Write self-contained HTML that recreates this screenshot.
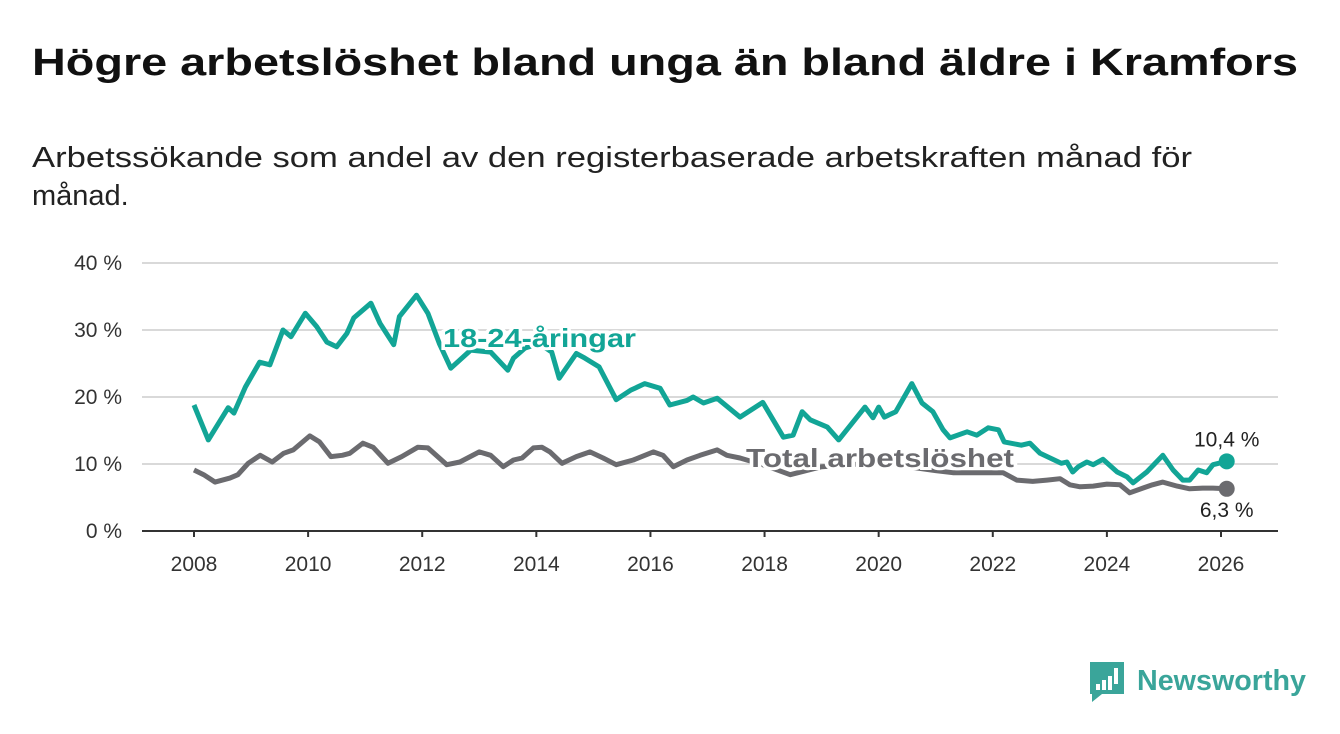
<!DOCTYPE html>
<html><head><meta charset="utf-8"><style>
body{margin:0;background:#fff;}
svg{display:block;font-family:"Liberation Sans",sans-serif;}
</style></head><body>
<svg id="chart" width="1340" height="734" viewBox="0 0 1340 734">
<text x="32" y="75" font-size="38" font-weight="bold" fill="#111" textLength="1266" lengthAdjust="spacingAndGlyphs">Högre arbetslöshet bland unga än bland äldre i Kramfors</text>
<text x="32" y="167" font-size="29" fill="#222" textLength="1160" lengthAdjust="spacingAndGlyphs">Arbetssökande som andel av den registerbaserade arbetskraften månad för</text>
<text x="32" y="205" font-size="29" fill="#222">månad.</text>
<g id="grid"></g><g id="axes"></g><g id="series"></g><g id="labels"></g>
<g>
<path d="M1090 662 h34 v32 h-22 l-10 8 v-8 h-2 z" fill="#3aa59a"/>
<rect x="1096" y="684" width="4" height="6" fill="#fff"/><rect x="1102" y="680" width="4" height="10" fill="#fff"/><rect x="1108" y="676" width="4" height="14" fill="#fff"/><rect x="1114" y="668" width="4" height="16" fill="#fff"/>
<text x="1137" y="690" font-size="29" font-weight="bold" fill="#3aa59a" textLength="169" lengthAdjust="spacingAndGlyphs">Newsworthy</text>
</g>
</svg>
<script>
const yTicks=[0,10,20,30,40];
const xTicks=[2008,2010,2012,2014,2016,2018,2020,2022,2024,2026];
const youthDates=[2008.0,2008.25,2008.6,2008.7,2008.9,2009.15,2009.33,2009.56,2009.7,2009.95,2010.15,2010.33,2010.5,2010.68,2010.8,2011.1,2011.26,2011.5,2011.6,2011.9,2012.1,2012.3,2012.5,2012.85,2013.2,2013.5,2013.6,2013.8,2014.05,2014.27,2014.4,2014.7,2014.85,2015.1,2015.4,2015.65,2015.9,2016.17,2016.34,2016.64,2016.75,2016.93,2017.17,2017.57,2017.97,2018.33,2018.5,2018.66,2018.8,2019.1,2019.3,2019.76,2019.9,2020.0,2020.1,2020.3,2020.58,2020.76,2020.95,2021.13,2021.25,2021.55,2021.72,2021.92,2022.1,2022.2,2022.5,2022.65,2022.83,2023.2,2023.3,2023.4,2023.5,2023.65,2023.76,2023.93,2024.18,2024.35,2024.46,2024.7,2024.98,2025.16,2025.33,2025.45,2025.6,2025.75,2025.86,2026.1];
const youthValues=[18.8,13.6,18.4,17.6,21.5,25.2,24.8,30,29,32.5,30.5,28.2,27.5,29.5,31.8,34,31,27.8,32,35.2,32.5,28,24.3,27,26.7,24,25.8,27.3,28,26.7,22.8,26.5,25.8,24.5,19.6,21,22,21.3,18.8,19.5,20,19.1,19.8,17,19.2,14,14.3,17.8,16.6,15.5,13.6,18.5,16.9,18.5,17,17.8,22,19.1,17.8,15.1,13.9,14.8,14.3,15.4,15.1,13.3,12.8,13.1,11.6,10.1,10.3,8.8,9.6,10.3,9.9,10.7,8.8,8.1,7.2,8.8,11.3,9.1,7.6,7.6,9.1,8.7,9.9,10.4];
const totalDates=[2008.0,2008.17,2008.37,2008.63,2008.77,2008.95,2009.16,2009.37,2009.57,2009.74,2010.03,2010.2,2010.4,2010.6,2010.73,2010.96,2011.14,2011.4,2011.64,2011.92,2012.1,2012.43,2012.66,2013.0,2013.2,2013.42,2013.6,2013.75,2013.95,2014.1,2014.24,2014.45,2014.7,2014.94,2015.17,2015.4,2015.7,2016.05,2016.22,2016.4,2016.64,2016.87,2017.17,2017.34,2017.57,2018.0,2018.45,2019.0,2019.5,2020.0,2020.5,2021.0,2021.3,2021.9,2022.18,2022.42,2022.7,2022.95,2023.18,2023.35,2023.53,2023.76,2024.0,2024.23,2024.4,2024.63,2024.8,2024.98,2025.23,2025.45,2025.68,2025.86,2026.1];
const totalValues=[9.1,8.4,7.3,7.9,8.4,10.1,11.3,10.3,11.6,12.1,14.2,13.3,11.1,11.3,11.6,13.1,12.5,10.1,11.1,12.5,12.4,9.9,10.3,11.8,11.3,9.6,10.6,10.9,12.4,12.5,11.8,10.1,11.1,11.8,10.9,9.9,10.6,11.8,11.3,9.6,10.6,11.3,12.1,11.3,10.9,9.8,8.4,9.6,9.9,10.2,9.6,9.0,8.7,8.7,8.7,7.6,7.4,7.6,7.8,6.9,6.6,6.7,7.0,6.9,5.7,6.4,6.9,7.3,6.7,6.3,6.4,6.4,6.3];
const youthLast="10,4 %", totalLast="6,3 %";
const NS="http://www.w3.org/2000/svg";
const X0=142,X1=1278,Y0=531,Y1=263;
const xs=y=>194+(y-2008)*(1221-194)/18;
const ys=v=>Y0-(v/40)*(Y0-Y1);
function mk(tag,attrs,parent,text){const e=document.createElementNS(NS,tag);for(const k in attrs)e.setAttribute(k,attrs[k]);if(text!=null)e.textContent=text;parent.appendChild(e);return e;}
const grid=document.getElementById('grid'),axes=document.getElementById('axes'),series=document.getElementById('series'),labels=document.getElementById('labels');
yTicks.forEach(t=>{
 if(t>0){const g=mk('line',{x1:X0,x2:X1,y1:ys(t),y2:ys(t),stroke:'#d9d9d9','stroke-width':2},grid);
 
 }
 const l=mk('text',{x:122,y:ys(t)+7,'text-anchor':'end','font-size':21,fill:'#333'},axes,t+' %');
 
 
});
const ax=mk('line',{x1:X0,x2:X1,y1:Y0,y2:Y0,stroke:'#333','stroke-width':2},axes);


xTicks.forEach(t=>{
 mk('line',{x1:xs(t),x2:xs(t),y1:Y0,y2:Y0+6,stroke:'#333','stroke-width':2},axes);
 const l=mk('text',{x:xs(t),y:571,'text-anchor':'middle','font-size':21,fill:'#333'},axes,String(t));
 
 
});
function path(d,v){return d.map((y,i)=>(i?'L':'M')+xs(y).toFixed(1)+' '+ys(v[i]).toFixed(1)).join(' ');}
const tl=mk('path',{d:path(totalDates,totalValues),fill:'none',stroke:'#6b6b6f','stroke-width':5,'stroke-linejoin':'round'},series);


const yl=mk('path',{d:path(youthDates,youthValues),fill:'none',stroke:'#12a596','stroke-width':5,'stroke-linejoin':'round'},series);


const tlx=totalDates[totalDates.length-1],tly=totalValues[totalValues.length-1];
const yx=youthDates[youthDates.length-1],yy=youthValues[youthValues.length-1];
const d1=mk('circle',{cx:xs(tlx),cy:ys(tly),r:8,fill:'#6b6b6f'},series);


const d2=mk('circle',{cx:xs(yx),cy:ys(yy),r:8,fill:'#12a596'},series);


const l1=mk('text',{x:xs(yx),y:ys(yy)-15,'text-anchor':'middle','font-size':21,fill:'#222'},labels,youthLast);


const l2=mk('text',{x:xs(tlx),y:ys(tly)+28,'text-anchor':'middle','font-size':21,fill:'#222'},labels,totalLast);


const s1=mk('text',{x:443,y:347,'font-size':26,'font-weight':'bold',fill:'#12a596',stroke:'#fff','stroke-width':6,'paint-order':'stroke',textLength:193,lengthAdjust:'spacingAndGlyphs'},labels,'18-24-åringar');


const s2=mk('text',{x:746,y:467,'font-size':26,'font-weight':'bold',fill:'#6b6b6f',stroke:'#fff','stroke-width':6,'paint-order':'stroke',textLength:268,lengthAdjust:'spacingAndGlyphs'},labels,'Total arbetslöshet');


</script>
</body></html>
